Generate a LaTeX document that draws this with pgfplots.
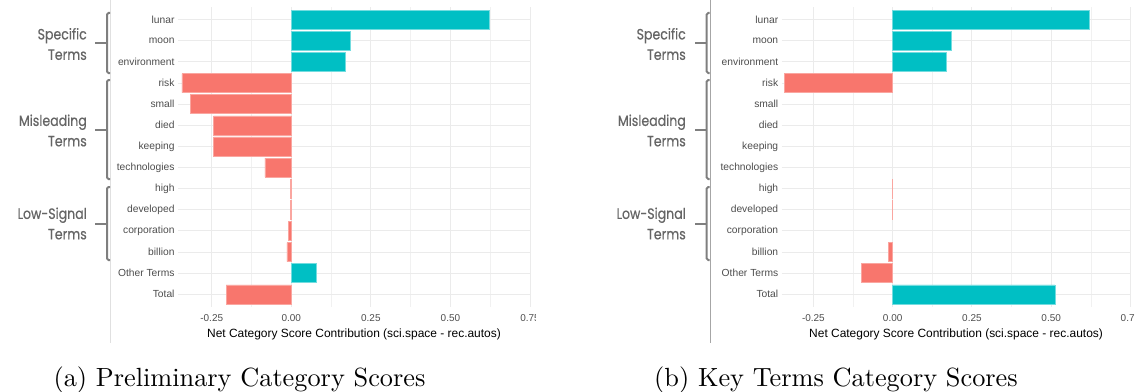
\documentclass[border=0pt]{standalone}
\usepackage{fontspec}
\usepackage{pgfplots}
\pgfplotsset{compat=1.18}
\newfontfamily\arial{Liberation Sans}
\newfontfamily\geo{Poppins}[FakeStretch=0.84, FakeBold=0.5]
\definecolor{posc}{HTML}{00BFC4}
\definecolor{negc}{HTML}{F8766D}
\definecolor{gridc}{HTML}{EBEBEB}
\definecolor{tickc}{HTML}{4D4D4D}
\definecolor{brc}{HTML}{7F7F7F}
\definecolor{grpc}{HTML}{656565}

\pgfplotstableread{
y x
1 0.622
2 0.186
3 0.170
13 0.078
}\leftpos
\pgfplotstableread{
y x
4 -0.344
5 -0.316
6 -0.244
7 -0.244
8 -0.083
9 -0.003
10 -0.002
11 -0.009
12 -0.014
14 -0.205
}\leftneg
\pgfplotstableread{
y x
1 0.620
2 0.185
3 0.169
14 0.512
}\rightpos
\pgfplotstableread{
y x
4 -0.342
9 -0.002
10 -0.002
12 -0.014
13 -0.098
}\rightneg

\pgfplotsset{
  panel/.style={
    scale only axis, height=300bp,
    ymin=0.4, ymax=14.6, y dir=reverse,
    ytick={1,...,14},
    yticklabels={lunar,moon,environment,risk,small,died,keeping,technologies,high,developed,corporation,billion,Other Terms,Total},
    xtick={-0.25,0,0.25,0.5,0.75},
    xticklabels={-0.25,0.00,0.25,0.50,0.75},
    minor xtick={-0.125,0.125,0.375,0.625},
    xmajorgrids, ymajorgrids, xminorgrids,
    major grid style={draw=gridc, line width=0.9bp},
    minor grid style={draw=gridc!70!white, line width=0.5bp},
    axis line style={draw=none},
    major tick length=0pt, minor tick length=0pt,
    tick style={draw=none},
    yticklabel style={font=\arial\fontsize{10.3}{12}\selectfont, text=tickc},
    xticklabel style={font=\arial\fontsize{10}{12}\selectfont, text=tickc, yshift=-4bp},
    xlabel={Net Category Score Contribution (sci.space - rec.autos)},
    every axis x label/.style={at={(axis description cs:0.5,-0.09)}, anchor=center,
      font=\arial\fontsize{12}{14}\selectfont, text=black},
    xbar, bar width=0.9, bar shift=0pt,
  },
  pbar/.style={fill=posc, draw=posc!55!white, line width=0.5bp},
  nbar/.style={fill=negc, draw=negc!65!white, line width=0.5bp},
}

\begin{document}
\begin{tikzpicture}[x=1bp,y=1bp]
\useasboundingbox (0,0) rectangle (1135,391);

% separator lines
\draw[color=black!12, line width=0.8bp] (110.7,391) -- (110.7,48);
\draw[color=black!35, line width=0.8bp] (710.7,391) -- (710.7,48);

% left panel
\begin{scope}
\clip (0,0) rectangle (535.7,391);
\begin{axis}[panel, at={(178bp,84bp)}, anchor=south west, width=352bp,
  xmin=-0.356, xmax=0.75]
\addplot[pbar] table[x=x,y=y] {\leftpos};
\addplot[nbar] table[x=x,y=y] {\leftneg};
\end{axis}
\end{scope}

% right panel
\begin{axis}[panel, at={(781.7bp,84bp)}, anchor=south west, width=348.7bp,
  xmin=-0.35, xmax=0.75]
\addplot[pbar] table[x=x,y=y] {\rightpos};
\addplot[nbar] table[x=x,y=y] {\rightneg};
\end{axis}

% brackets and group labels
\foreach \bx/\lx in {107/87, 706.7/686}{
  \begin{scope}[draw=brc, line width=2bp, rounded corners=1.5bp]
    \draw (\bx+3,378) -- (\bx,378) -- (\bx,318) -- (\bx+3,318);
    \draw (\bx,348) -- (\bx-12,348);
    \draw (\bx+3,311) -- (\bx,311) -- (\bx,212) -- (\bx+3,212);
    \draw (\bx,261.5) -- (\bx-12,261.5);
    \draw (\bx+3,204) -- (\bx,204) -- (\bx,131) -- (\bx+3,131);
    \draw (\bx,167.5) -- (\bx-12,167.5);
  \end{scope}
  \node[anchor=east, align=right, inner sep=0pt, text=grpc,
        font=\geo\fontsize{15}{20.5}\selectfont] at (\lx,347) {Specific\\Terms};
  \node[anchor=east, align=right, inner sep=0pt, text=grpc,
        font=\geo\fontsize{15}{20.5}\selectfont] at (\lx,260.5) {Misleading\\Terms};
  \node[anchor=east, align=right, inner sep=0pt, text=grpc,
        font=\geo\fontsize{15}{20.5}\selectfont] at (\lx,167.5) {Low-Signal\\Terms};
}

% captions
\node[anchor=base, inner sep=0pt, scale=2.64, transform shape, font=\fontsize{10}{12}\selectfont]
  at (239.5,4.5) {(a) Preliminary Category Scores};
\node[anchor=base, inner sep=0pt, scale=2.64, transform shape, font=\fontsize{10}{12}\selectfont]
  at (836,4.5) {(b) Key Terms Category Scores};
\end{tikzpicture}
\end{document}
